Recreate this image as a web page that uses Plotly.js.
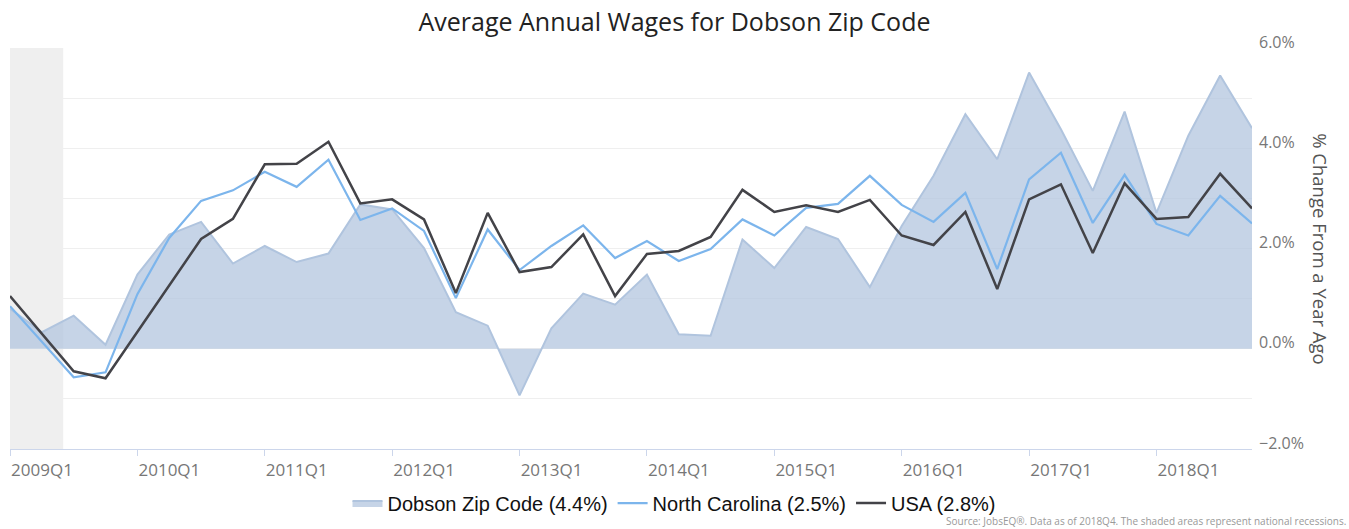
<!DOCTYPE html>
<html>
<head>
<meta charset="utf-8">
<script src="https://cdn.plot.ly/plotly-3.0.1.min.js"></script>
<style>
html,body{margin:0;padding:0;background:#fff;}
#chart{width:1349px;height:529px;}
</style>
</head>
<body>
<div id="chart"></div>
<script>
// Quarters 2009Q1 .. 2018Q4
const quarters = [];
for (let y = 2009; y <= 2018; y++) for (let q = 1; q <= 4; q++) quarters.push(y + 'Q' + q);
const xIndex = quarters.map((_, i) => i);

const dobson = [0.80, 0.33, 0.66, 0.08, 1.48, 2.28, 2.53, 1.70, 2.05, 1.73,
                1.90, 2.88, 2.78, 2.01, 0.73, 0.46, -0.93, 0.41, 1.10, 0.88,
                1.48, 0.29, 0.26, 2.18, 1.61, 2.43, 2.19, 1.23, 2.45, 3.45,
                4.68, 3.78, 5.51, 4.38, 3.15, 4.73, 2.71, 4.25, 5.45, 4.40];
const northCarolina = [0.85, 0.15, -0.57, -0.47, 1.09, 2.21, 2.95, 3.16, 3.53, 3.23,
                3.77, 2.57, 2.80, 2.35, 1.01, 2.38, 1.57, 2.05, 2.46, 1.81,
                2.15, 1.75, 1.99, 2.58, 2.26, 2.81, 2.89, 3.45, 2.87, 2.53,
                3.11, 1.59, 3.38, 3.91, 2.51, 3.47, 2.49, 2.26, 3.05, 2.50];
const usa = [1.05, 0.30, -0.45, -0.59, 0.34, 1.27, 2.19, 2.59, 3.68, 3.69,
                4.13, 2.90, 2.98, 2.58, 1.11, 2.71, 1.53, 1.63, 2.28, 1.05,
                1.89, 1.95, 2.23, 3.17, 2.73, 2.86, 2.73, 2.97, 2.26, 2.07,
                2.73, 1.19, 2.98, 3.28, 1.91, 3.30, 2.59, 2.63, 3.49, 2.80];

const seriesNames = ['Dobson Zip Code (4.4%)', 'North Carolina (2.5%)', 'USA (2.8%)'];
const xTickVals = [0, 4, 8, 12, 16, 20, 24, 28, 32, 36];
const xTickText = xTickVals.map(i => quarters[i]);
const yTickVals = [-2, -1, 0, 1, 2, 3, 4, 5, 6];
const yTickText = ['\u22122.0%', '', '0.0%', '', '2.0%', '', '4.0%', '', '6.0%'];
// recession shading (in quarter index units, from 2009Q1 start)
const recessionStart = 0;
const recessionEnd = 1.67;

const traces = [
  {x: xIndex, y: dobson, name: seriesNames[0], type: 'scatter', mode: 'lines',
   fill: 'tozeroy', fillcolor: 'rgba(176,196,222,0.72)',
   line: {color: 'rgba(176,196,222,1)', width: 2}, hoverinfo: 'skip'},
  {x: xIndex, y: northCarolina, name: seriesNames[1], type: 'scatter', mode: 'lines',
   line: {color: '#7cb5ec', width: 2.2}},
  {x: xIndex, y: usa, name: seriesNames[2], type: 'scatter', mode: 'lines',
   line: {color: '#434348', width: 2.5}}
];

const layout = {
  width: 1349, height: 529,
  margin: {l: 10, r: 97, t: 48, b: 80},
  paper_bgcolor: '#fff', plot_bgcolor: '#fff',
  title: {text: 'Average Annual Wages for Dobson Zip Code', x: 0.5, xanchor: 'center', y: 0.958, yanchor: 'middle',
          font: {family: 'Open Sans, sans-serif', size: 25, color: '#222'}},
  xaxis: {range: [0, 39], tickvals: xTickVals, ticktext: xTickText,
          showgrid: false, zeroline: false, showline: true, linecolor: '#ccd6eb', linewidth: 1,
          ticks: 'outside', ticklen: 6, tickcolor: '#ccd6eb', ticklabelshift: 32, ticklabelstandoff: 0,
          tickfont: {family: 'Open Sans, sans-serif', size: 17, color: '#777'}},
  yaxis: {range: [-2, 6], side: 'right', tickvals: yTickVals, ticktext: yTickText,
          showgrid: true, gridcolor: '#efefef', gridwidth: 1, zeroline: false, showline: false,
          ticks: '', ticklabelshift: -6, ticklabelstandoff: 6,
          tickfont: {family: 'Open Sans, sans-serif', size: 16, color: '#777'}},
  showlegend: true,
  legend: {orientation: 'h', x: 0.5, xref: 'container', xanchor: 'center', y: 0.049, yref: 'container', yanchor: 'middle',
           font: {family: 'Liberation Sans, Arial, sans-serif', size: 20, color: '#111'},
           itemwidth: 30, tracegroupgap: 0},
  shapes: [{type: 'rect', xref: 'x', yref: 'paper', x0: recessionStart, x1: recessionEnd, y0: 0, y1: 1,
            fillcolor: '#efefef', line: {width: 0}, layer: 'below'}],
  annotations: [
    {text: '% Change From a Year Ago', xref: 'paper', yref: 'paper', x: 1.055, y: 0.5,
     xanchor: 'center', yanchor: 'middle', textangle: 90, showarrow: false,
     font: {family: 'Open Sans, sans-serif', size: 18.5, color: '#555'}},
    {text: 'Source: JobsEQ\u00ae. Data as of 2018Q4. The shaded areas represent national recessions.',
     xref: 'paper', yref: 'paper', x: 1.0775, y: -0.18, xanchor: 'right', yanchor: 'middle', showarrow: false,
     font: {family: 'Open Sans, sans-serif', size: 10, color: '#999'}}
  ]
};

Plotly.newPlot('chart', traces, layout, {displayModeBar: false, staticPlot: true});
</script>
</body>
</html>
